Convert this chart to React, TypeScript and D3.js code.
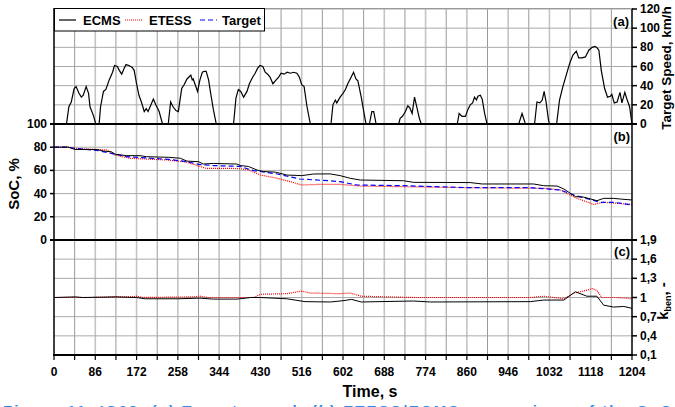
import * as d3 from 'd3';

const W = 675;
const H = 407;

// target speed profile (s, km/h)
const speedTime = [0, 26, 31, 36, 42, 46, 52, 57, 61, 67, 72, 75, 82, 87, 94, 97, 103, 108, 115, 122, 126, 132, 136, 141, 146, 150, 156, 163, 167, 172, 177, 182, 188, 192, 196, 202, 207, 212, 219, 226, 238, 243, 248, 254, 259, 266, 271, 277, 281, 285, 288, 290, 299, 304, 309, 313, 317, 322, 327, 332, 338, 374, 379, 384, 389, 395, 402, 407, 414, 419, 424, 429, 435, 440, 445, 450, 456, 461, 468, 473, 479, 486, 492, 499, 506, 511, 516, 521, 527, 534, 577, 581, 586, 589, 596, 602, 607, 612, 617, 624, 629, 633, 640, 647, 650, 657, 662, 666, 671, 718, 721, 726, 732, 737, 741, 746, 751, 756, 761, 765, 840, 844, 850, 857, 862, 867, 872, 876, 880, 883, 888, 892, 897, 902, 968, 975, 982, 1001, 1006, 1012, 1017, 1021, 1025, 1030, 1032, 1047, 1053, 1060, 1067, 1074, 1081, 1088, 1093, 1100, 1107, 1114, 1121, 1127, 1132, 1135, 1140, 1147, 1153, 1159, 1162, 1167, 1173, 1179, 1183, 1189, 1194, 1199, 1204];
const speedValue = [0, 0, 18, 23, 37, 39, 32, 28, 30, 39, 32, 18, 9, 0, 0, 18, 34, 36, 46, 54, 61, 60, 56, 52, 58, 62, 61, 59, 56, 42, 30, 23, 13, 16, 13, 20, 26, 20, 13, 0, 0, 23, 18, 14, 13, 37, 41, 47, 49, 51, 46, 47, 34, 46, 54, 55, 55, 46, 30, 15, 0, 0, 27, 36, 34, 28, 34, 42, 49, 53, 58, 61, 60, 54, 52, 49, 42, 45, 49, 53, 52, 54, 53, 54, 53, 49, 41, 39, 18, 0, 0, 20, 25, 22, 28, 32, 36, 42, 47, 54, 47, 45, 28, 8, 0, 0, 13, 13, 0, 0, 6, 8, 13, 19, 17, 11, 28, 17, 6, 0, 0, 11, 8, 8, 15, 20, 22, 28, 25, 29, 30, 26, 11, 0, 0, 11, 0, 0, 23, 22, 25, 34, 23, 4, 0, 0, 25, 39, 51, 63, 72, 76, 69, 69, 70, 77, 80, 81, 79, 77, 56, 37, 28, 29, 31, 22, 23, 33, 22, 33, 25, 18, 0];

// SoC, %
const socEcmsTime = [0, 30, 44, 89, 103, 120, 127, 151, 179, 193, 238, 263, 277, 301, 311, 332, 381, 388, 405, 423, 436, 461, 485, 516, 541, 575, 596, 617, 638, 728, 749, 867, 892, 999, 1020, 1048, 1062, 1086, 1103, 1131, 1145, 1166, 1180, 1204];
const socEcms = [80, 80, 78, 78, 76.7, 76, 74, 72.7, 72.7, 71.8, 71.3, 70.5, 68, 67.5, 65.5, 66, 65.5, 64.2, 63.4, 60.3, 59, 58.5, 56, 55.5, 56.9, 57, 55.5, 53.2, 51.7, 51.1, 49.7, 49.5, 48.3, 48.3, 46.8, 46.5, 44, 37.4, 37, 33.9, 35.9, 35.9, 35.3, 34.5];
const socTargetTime = [0, 30, 44, 89, 127, 151, 238, 277, 304, 332, 388, 416, 465, 512, 575, 596, 631, 728, 867, 992, 1055, 1083, 1138, 1166, 1204];
const socTarget = [80, 80, 79, 77.3, 74, 71.8, 69.5, 67.5, 65, 64.2, 63.4, 59.8, 56.9, 52.6, 51, 50.3, 47.4, 46.8, 45.1, 45.1, 43.1, 38.8, 32.5, 32.5, 30.2];
const socEtessTime = [0, 30, 44, 89, 110, 127, 158, 234, 272, 317, 373, 402, 430, 465, 492, 516, 554, 596, 638, 867, 1027, 1055, 1086, 1124, 1145, 1204];
const socEtess = [80, 80, 79, 78, 77.6, 73.3, 70.4, 69, 67.5, 61.8, 61.8, 60.9, 56, 53.2, 50.3, 47.4, 48, 48, 46.5, 45.1, 44.5, 43.1, 36.5, 30.7, 32.5, 30.7];

// k_ben, -
const kEcmsTime = [0, 44, 60, 130, 172, 190, 258, 304, 332, 381, 410, 430, 485, 523, 576, 602, 620, 640, 749, 784, 992, 1020, 1062, 1086, 1110, 1131, 1145, 1166, 1187, 1204];
const kEcms = [1.0, 1.01, 1.0, 1.01, 1.0, 0.98, 0.98, 0.99, 0.975, 0.975, 1.0, 1.0, 0.98, 0.935, 0.93, 0.95, 0.97, 0.93, 0.945, 0.93, 0.935, 0.96, 0.96, 1.09, 1.02, 1.02, 0.88, 0.85, 0.86, 0.83];
const kEtessTime = [0, 80, 160, 172, 185, 290, 304, 320, 416, 430, 485, 516, 534, 596, 617, 640, 749, 992, 1020, 1062, 1083, 1103, 1121, 1131, 1141, 1173, 1204];
const kEtess = [1.0, 1.0, 1.01, 1.02, 1.0, 1.01, 1.02, 1.0, 1.0, 1.05, 1.06, 1.1, 1.07, 1.06, 1.07, 1.02, 1.0, 1.0, 1.02, 0.98, 1.07, 1.1, 1.14, 1.11, 1.0, 1.0, 0.98];

const timeTicks = [0, 86, 172, 258, 344, 430, 516, 602, 688, 774, 860, 946, 1032, 1118, 1204];
const speedTicks = [0, 20, 40, 60, 80, 100, 120];
const socTicks = [0, 20, 40, 60, 80, 100];
const kTicks = [0.1, 0.4, 0.7, 1.0, 1.3, 1.6, 1.9];

const font = "'Liberation Sans', Arial, sans-serif";

function App() {
  const x = d3.scaleLinear().domain([0, 1204]).range([54, 632]);
  const yS = d3.scaleLinear().domain([0, 120]).range([124, 9]);
  const yC = d3.scaleLinear().domain([0, 100]).range([240, 124]);
  const yK = d3.scaleLinear().domain([0.1, 1.9]).range([355, 240]);

  const mk = (ts: number[], vs: number[], ys: d3.ScaleLinear<number, number>) =>
    d3.line<number>().x((_, i) => x(ts[i])).y(d => ys(d))(vs) || '';

  const grid = d3.range(43, 1204, 43);
  const fmtK = (v: number) => (Math.abs(v - 1) < 1e-9 ? '1' : v.toFixed(1).replace('.', ','));

  return (
    <svg width={W} height={H} style={{position: 'absolute', left: 0, top: 0, background: '#fff'}} fontFamily={font} fontWeight="bold">
      {/* grid */}
      <g>
        {grid.map(t => (
          <line key={'v' + t} x1={x(t)} x2={x(t)} y1={9} y2={355}
            stroke={t % 86 === 0 ? '#c4c4c4' : '#999'} strokeWidth={t % 86 === 0 ? 1.6 : 1} />
        ))}
        {speedTicks.slice(1).map(v => (
          <line key={'s' + v} x1={54} x2={632} y1={yS(v)} y2={yS(v)} stroke="#aaa" />
        ))}
        {socTicks.slice(1, -1).map(v => (
          <line key={'c' + v} x1={54} x2={632} y1={yC(v)} y2={yC(v)} stroke="#aaa" />
        ))}
        {kTicks.slice(0, -1).map(v => (
          <line key={'k' + v} x1={54} x2={632} y1={yK(v)} y2={yK(v)} stroke="#aaa" />
        ))}
      </g>

      {/* series */}
      <path d={mk(speedTime, speedValue, yS)} fill="none" stroke="#000" strokeWidth={1.2} />
      <path d={mk(socEtessTime, socEtess, yC)} fill="none" stroke="#ff0000" strokeWidth={1.2} strokeDasharray="1,1" />
      <path d={mk(socTargetTime, socTarget, yC)} fill="none" stroke="#0000ff" strokeWidth={1.2} strokeDasharray="5,3" />
      <path d={mk(socEcmsTime, socEcms, yC)} fill="none" stroke="#000" strokeWidth={1} />
      <path d={mk(kEtessTime, kEtess, yK)} fill="none" stroke="#ff0000" strokeWidth={1.2} strokeDasharray="1,1" />
      <path d={mk(kEcmsTime, kEcms, yK)} fill="none" stroke="#000" strokeWidth={1} />

      {/* frame */}
      <line x1={54} x2={54} y1={8} y2={356} stroke="#000" strokeWidth={1.5} />
      <line x1={632} x2={632} y1={8} y2={356} stroke="#000" strokeWidth={1.5} />
      <line x1={54} x2={632} y1={8.5} y2={8.5} stroke="#999" />
      {[124, 240].map(y => (
        <line key={y} x1={50} x2={637} y1={y} y2={y} stroke="#000" strokeWidth={2} />
      ))}
      <line x1={53} x2={633} y1={355} y2={355} stroke="#000" strokeWidth={2} />

      {/* left SoC axis */}
      {socTicks.map(v => (
        <g key={'lc' + v}>
          <line x1={50} x2={54} y1={yC(v)} y2={yC(v)} stroke="#000" strokeWidth={1.5} />
          <text x={47} y={yC(v) + 4} textAnchor="end" fontSize={12}>{v}</text>
        </g>
      ))}
      <text transform={`translate(19,${(yC(0) + yC(100)) / 2 + 2}) rotate(-90)`} textAnchor="middle" fontSize={15}>SoC, %</text>

      {/* right speed axis */}
      {speedTicks.map(v => (
        <g key={'rs' + v}>
          <line x1={632} x2={637} y1={yS(v)} y2={yS(v)} stroke="#000" strokeWidth={1.5} />
          <text x={640} y={yS(v) + 4} fontSize={12}>{v}</text>
        </g>
      ))}
      <text transform={`translate(671,68) rotate(-90)`} textAnchor="middle" fontSize={13.5}>Target Speed, km/h</text>

      {/* right k_ben axis */}
      {kTicks.map(v => (
        <g key={'rk' + v}>
          <line x1={632} x2={637} y1={yK(v)} y2={yK(v)} stroke="#000" strokeWidth={1.5} />
          <text x={640} y={yK(v) + 4} fontSize={12}>{fmtK(v)}</text>
        </g>
      ))}
      <text transform={`translate(668,301) rotate(-90)`} textAnchor="middle" fontSize={15}>
        k<tspan fontSize={9} dy={3}>ben</tspan><tspan dy={-3}>, -</tspan>
      </text>

      {/* time axis */}
      {grid.concat([0, 1204]).map(t => (
        <line key={'bt' + t} x1={x(t)} x2={x(t)} y1={355} y2={360} stroke="#000" strokeWidth={1.2} />
      ))}
      {timeTicks.map(t => (
        <text key={'tl' + t} x={x(t)} y={376} textAnchor="middle" fontSize={12}>{t}</text>
      ))}
      <text x={370} y={397} textAnchor="middle" fontSize={16}>Time, s</text>

      {/* panel labels */}
      <text x={629} y={26} textAnchor="end" fontSize={13}>(a)</text>
      <text x={630} y={141} textAnchor="end" fontSize={13}>(b)</text>
      <text x={630} y={256} textAnchor="end" fontSize={13}>(c)</text>

      {/* legend */}
      <g>
        <rect x={54.5} y={8.5} width={210} height={22.5} fill="#fff" stroke="#000" strokeWidth={1} />
        <line x1={59} x2={76} y1={20} y2={20} stroke="#000" strokeWidth={1.2} />
        <text x={83} y={25} fontSize={13}>ECMS</text>
        <line x1={125} x2={143} y1={20} y2={20} stroke="#ff0000" strokeWidth={1.2} strokeDasharray="1,1" />
        <text x={149} y={25} fontSize={13}>ETESS</text>
        <line x1={200} x2={217} y1={20} y2={20} stroke="#0000ff" strokeWidth={1.2} strokeDasharray="5,3" />
        <text x={222} y={25} fontSize={13}>Target</text>
      </g>

      {/* caption (cut off at bottom) */}
      <text x={3} y={416} fontSize={15} fill="#2b8cf0" textLength={668} lengthAdjust="spacing">
        Figure 11. IC08. (a) Target speed; (b) ETESS/ECMS comparison of the SoC
      </text>
    </svg>
  );
}

export default App;
